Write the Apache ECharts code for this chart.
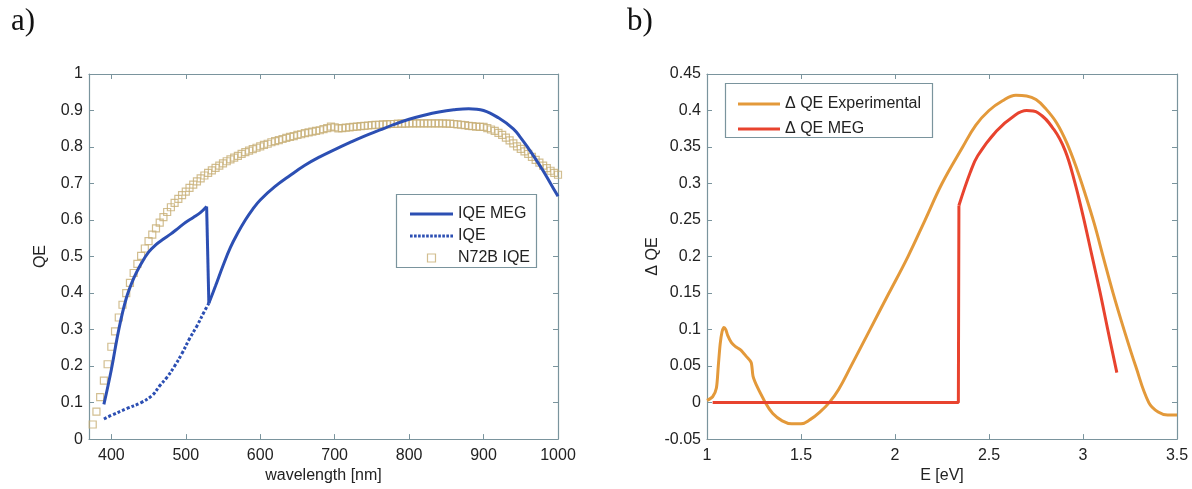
<!DOCTYPE html>
<html><head><meta charset="utf-8">
<script src="https://cdn.jsdelivr.net/npm/echarts@6/dist/echarts.min.js"></script>
<style>html,body{margin:0;padding:0;background:#fff}#c{width:1192px;height:489px}</style>
</head><body><div id="c"></div>
<script>
// ---- Panel a) data ----
// IQE MEG, before the step (390-528 nm) and after it (531-1000 nm)
const megWl1 = [390,400,410,420,430,440,450,460,470,480,490,500,510,520,528];
const megQE1 = [0.095,0.19,0.30,0.385,0.44,0.48,0.512,0.533,0.548,0.562,0.578,0.594,0.607,0.621,0.637];
const megWl2 = [531,540,550,560,570,580,590,600,620,640,660,680,700,720,740,760,780,800,820,840,860,880,900,920,940,950,960,970,980,990,1000];
const megQE2 = [0.372,0.42,0.475,0.525,0.565,0.600,0.630,0.655,0.692,0.722,0.750,0.773,0.793,0.812,0.830,0.846,0.862,0.876,0.887,0.896,0.902,0.905,0.900,0.880,0.850,0.825,0.797,0.767,0.735,0.700,0.665];
const iqeWl = [390,400,420,440,455,465,475,485,495,505,515,525,531];
const iqeQE = [0.055,0.065,0.083,0.10,0.12,0.146,0.17,0.20,0.235,0.275,0.31,0.35,0.372];
const n72Wl = [375,380,385,390,395,400,405,410,415,420,425,430,435,440,445,450,455,460,465,470,475,480,485,490,495,500,505,510,515,520,525,530,535,540,545,550,555,560,565,570,575,580,585,590,595,600,605,610,615,620,625,630,635,640,645,650,655,660,665,670,675,680,685,690,695,700,705,710,715,720,725,730,735,740,745,750,755,760,765,770,775,780,785,790,795,800,805,810,815,820,825,830,835,840,845,850,855,860,865,870,875,880,885,890,895,900,905,910,915,920,925,930,935,940,945,950,955,960,965,970,975,980,985,990,995,1000];
const n72QE = [0.040,0.075,0.115,0.160,0.205,0.253,0.295,0.333,0.368,0.400,0.428,0.455,0.480,0.502,0.522,0.542,0.560,0.577,0.593,0.608,0.622,0.635,0.647,0.658,0.668,0.678,0.688,0.697,0.706,0.714,0.722,0.729,0.736,0.743,0.749,0.755,0.761,0.766,0.771,0.776,0.781,0.786,0.790,0.794,0.798,0.802,0.806,0.809,0.813,0.816,0.819,0.822,0.825,0.828,0.830,0.833,0.835,0.838,0.840,0.842,0.844,0.846,0.849,0.852,0.856,0.854,0.851,0.852,0.853,0.854,0.855,0.856,0.857,0.858,0.859,0.860,0.861,0.861,0.862,0.862,0.863,0.863,0.864,0.864,0.864,0.865,0.865,0.865,0.865,0.865,0.865,0.865,0.865,0.865,0.865,0.864,0.864,0.863,0.862,0.861,0.860,0.858,0.857,0.856,0.855,0.855,0.852,0.848,0.844,0.839,0.833,0.826,0.818,0.810,0.802,0.795,0.788,0.781,0.773,0.765,0.757,0.749,0.742,0.735,0.729,0.724];
const xTicksA = [400,500,600,700,800,900,1000];

// ---- Panel b) data ----
// Experimental: low-energy bump (1.0-1.31 eV) and main band (1.31-3.5 eV)
const expE1 = [1.00,1.03,1.05,1.06,1.07,1.08,1.09,1.10,1.11,1.13,1.15,1.18,1.21,1.235,1.245,1.27,1.31];
const expQE1 = [0.003,0.008,0.02,0.05,0.08,0.097,0.103,0.10,0.092,0.082,0.077,0.072,0.063,0.055,0.036,0.02,0.0];
const expE2 = [1.31,1.35,1.40,1.45,1.50,1.55,1.60,1.65,1.70,1.766,1.867,1.968,2.069,2.16,2.25,2.36,2.43,2.50,2.57,2.643,2.70,2.75,2.80,2.86,2.915,2.97,3.01,3.06,3.107,3.16,3.218,3.28,3.35,3.40,3.45,3.50];
const expQE2 = [0.0,-0.015,-0.025,-0.029,-0.029,-0.023,-0.013,0.0,0.018,0.05,0.10,0.15,0.20,0.25,0.30,0.35,0.38,0.40,0.413,0.421,0.42,0.415,0.403,0.383,0.355,0.318,0.287,0.245,0.20,0.15,0.10,0.05,0.0,-0.013,-0.017,-0.017];
// MEG: flat zero then step at 2.34 eV, then the band
const megE1 = [1.03,2.337,2.34];
const megDQE1 = [0,0,0.27];
const megE2 = [2.34,2.40,2.44,2.54,2.64,2.70,2.76,2.845,2.905,2.956,3.00,3.046,3.09,3.13,3.18];
const megDQE2 = [0.27,0.315,0.338,0.372,0.394,0.40,0.397,0.374,0.345,0.302,0.256,0.203,0.152,0.102,0.041];

const pairs = (xs, ys) => xs.map((x, i) => [x, ys[i]]);
const last = a => a[a.length - 1];

const AX = '#7a949d';
const TXT = '#222';
const FONT = '"Liberation Sans", Arial, sans-serif';
const BLUE = '#2c4fb3';
const TAN = '#c7ae74';
const ORANGE = '#e3993a';
const RED = '#e8432e';

const lab = {color: TXT, fontSize: 16, fontFamily: FONT};
const fmt = v => String(+v.toFixed(4));
function xAx(grid, min, max, interval, ticks, pos, name) {
  const o = {
    gridIndex: grid, type: 'value', min: min, max: max, position: pos,
    axisLine: {show: true, onZero: false, lineStyle: {color: AX, width: 1.2}},
    axisTick: {show: true, inside: true, length: 5, lineStyle: {color: AX}},
    axisLabel: Object.assign({show: pos === 'bottom', margin: 8, formatter: fmt}, lab),
    splitLine: {show: false}
  };
  if (interval) o.interval = interval;
  if (ticks) { o.axisTick.customValues = ticks; o.axisLabel.customValues = ticks; }
  if (name) { o.name = name; o.nameLocation = 'middle'; o.nameGap = 27; o.nameTextStyle = lab; }
  return o;
}
function yAx(grid, min, max, interval, pos, name, gap) {
  const o = {
    gridIndex: grid, type: 'value', min: min, max: max, interval: interval, position: pos,
    axisLine: {show: true, onZero: false, lineStyle: {color: AX, width: 1.2}},
    axisTick: {show: true, inside: true, length: 5, lineStyle: {color: AX}},
    axisLabel: Object.assign({show: pos === 'left', margin: 6, formatter: fmt}, lab),
    splitLine: {show: false}
  };
  if (name) { o.name = name; o.nameLocation = 'middle'; o.nameGap = gap; o.nameTextStyle = lab; }
  return o;
}

// legend icons (pure styling)
const solidIcon = 'path://M0,0H43V3H0Z';
let dash = '';
for (let x = 0; x < 43; x += 4) dash += 'M' + x + ',0H' + Math.min(x + 2.6, 43) + 'V3H' + x + 'Z';
const dashIcon = 'path://' + dash;
const sqIcon = 'path://M0,0H10V10H0Z';

function lineSeries(name, xi, data, color, smooth, extra) {
  return Object.assign({
    name: name, type: 'line', xAxisIndex: xi, yAxisIndex: xi, symbol: 'none',
    smooth: smooth, lineStyle: {color: color, width: 3}, itemStyle: {color: color},
    data: data
  }, extra || {});
}

const option = {
  animation: false,
  backgroundColor: '#fff',
  grid: [
    {left: 89, right: 634, top: 74, bottom: 45},
    {left: 707, right: 15, top: 74, bottom: 45}
  ],
  xAxis: [
    xAx(0, 370, 1000, null, xTicksA, 'bottom', 'wavelength [nm]'),
    xAx(0, 370, 1000, null, xTicksA, 'top'),
    xAx(1, 1, 3.5, 0.5, null, 'bottom', 'E [eV]'),
    xAx(1, 1, 3.5, 0.5, null, 'top')
  ],
  yAxis: [
    yAx(0, 0, 1, 0.1, 'left', 'QE', 40),
    yAx(0, 0, 1, 0.1, 'right'),
    yAx(1, -0.05, 0.45, 0.05, 'left', 'Δ QE', 40),
    yAx(1, -0.05, 0.45, 0.05, 'right')
  ],
  legend: [
    {
      orient: 'vertical', left: 405, top: 201, itemWidth: 43, itemHeight: 8, itemGap: 6, z: 10,
      textStyle: lab, selectedMode: false,
      data: [
        {name: 'IQE MEG', icon: solidIcon, itemStyle: {color: BLUE}},
        {name: 'IQE', icon: dashIcon, itemStyle: {color: BLUE}},
        {name: 'N72B IQE', icon: sqIcon, itemStyle: {color: 'rgba(0,0,0,0)', borderColor: TAN, borderWidth: 1.2}}
      ]
    },
    {
      orient: 'vertical', left: 733, top: 91, itemWidth: 42, itemHeight: 8, itemGap: 9, z: 10,
      textStyle: lab, selectedMode: false,
      data: [
        {name: 'Δ QE Experimental', icon: solidIcon, itemStyle: {color: ORANGE}},
        {name: 'Δ QE MEG', icon: solidIcon, itemStyle: {color: RED}}
      ]
    }
  ],
  graphic: [
    {type: 'rect', z: 5, shape: {x: 396.5, y: 194.5, width: 140, height: 73}, style: {fill: '#fff', stroke: AX, lineWidth: 1.2}},
    {type: 'rect', z: 5, shape: {x: 725.5, y: 83.5, width: 207, height: 54}, style: {fill: '#fff', stroke: AX, lineWidth: 1.2}},
    {type: 'text', left: 11, top: 6, style: {text: 'a)', font: '31px "Liberation Serif", "Times New Roman", serif', fill: '#111'}},
    {type: 'text', left: 627, top: 6, style: {text: 'b)', font: '31px "Liberation Serif", "Times New Roman", serif', fill: '#111'}}
  ],
  series: [
    {
      name: 'N72B IQE', type: 'scatter', xAxisIndex: 0, yAxisIndex: 0,
      symbol: 'rect', symbolSize: 7,
      itemStyle: {color: 'rgba(0,0,0,0)', borderColor: TAN, borderWidth: 1.2},
      data: pairs(n72Wl, n72QE)
    },
    lineSeries('IQE', 0, pairs(iqeWl, iqeQE), BLUE, 0.4, {lineStyle: {color: BLUE, width: 3, type: [3, 2]}}),
    lineSeries('IQE MEG', 0, pairs(megWl1, megQE1), BLUE, 0.4),
    lineSeries('IQE MEG', 0, [[last(megWl1), last(megQE1)], [megWl2[0], megQE2[0]]], BLUE, false),
    lineSeries('IQE MEG', 0, pairs(megWl2, megQE2), BLUE, 0.4),
    lineSeries('Δ QE Experimental', 2, pairs(expE1, expQE1), ORANGE, 0.25),
    lineSeries('Δ QE Experimental', 2, pairs(expE2, expQE2), ORANGE, 0.4),
    lineSeries('Δ QE MEG', 2, pairs(megE1, megDQE1), RED, false),
    lineSeries('Δ QE MEG', 2, pairs(megE2, megDQE2), RED, 0.4)
  ]
};
const chart = echarts.init(document.getElementById('c'), null, {renderer: 'canvas'});
chart.setOption(option);
</script></body></html>
